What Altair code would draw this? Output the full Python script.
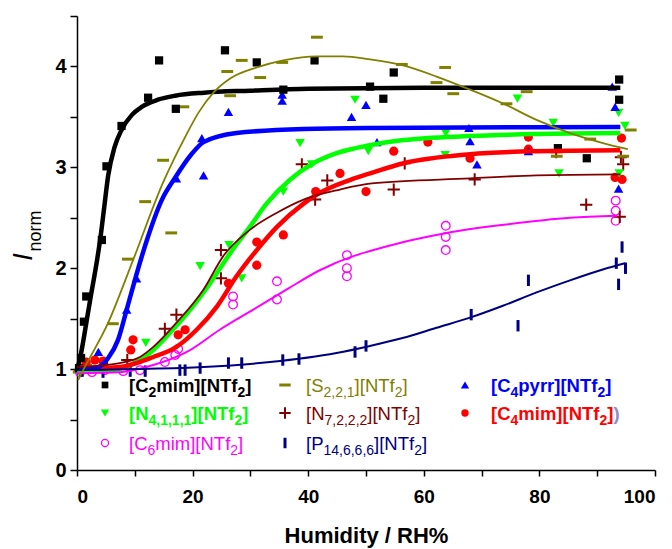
import altair as alt
import pandas as pd

# ---------------- data ----------------
# [C2mim][NTf2]  black squares
C2_X = [0.35, 0.7, 1.2, 1.6, 4.3, 5.1, 7.7, 12.3, 14.2, 17.1, 25.6, 31.1, 35.7, 41.1, 50.7, 53.0, 54.8, 83.2, 88.2, 93.8, 93.8]
C2_Y = [1.01, 1.11, 1.47, 1.72, 2.28, 3.01, 3.41, 3.69, 4.06, 3.58, 4.16, 4.04, 3.77, 4.06, 3.80, 3.68, 3.94, 3.19, 3.09, 3.87, 3.67]
C2_FX = [0, 0.5, 1.0, 1.7, 2.5, 3.3, 4.0, 4.7, 5.4, 6.5, 7.7, 9.5, 11.2, 14, 17, 22, 30, 40, 60, 94]
C2_FY = [1.0, 1.1, 1.25, 1.49, 1.76, 2.02, 2.28, 2.6, 2.92, 3.2, 3.37, 3.52, 3.60, 3.67, 3.71, 3.74, 3.76, 3.78, 3.79, 3.79]

# [S2,2,1][NTf2]  olive dashes
S2_X = [0.3, 1.6, 6.2, 8.8, 11.8, 14.9, 16.3, 18.4, 26.0, 26.5, 28.5, 31.7, 35.5, 41.5, 56.2, 62.2, 63.7, 65.1, 74.3, 77.8, 83.0, 88.8, 94.5, 95.8]
S2_Y = [0.97, 1.04, 1.45, 2.09, 2.66, 3.07, 2.35, 3.60, 3.95, 3.71, 4.06, 3.89, 4.04, 4.29, 4.02, 3.84, 3.99, 3.73, 3.63, 3.75, 3.11, 3.28, 3.11, 3.37]
S2_FX = [0.2, 0.8, 5.4, 9.7, 14.9, 18.7, 21.0, 23.6, 26.5, 31.1, 35.7, 41.5, 46.0, 50.7, 56.4, 62.2, 68.0, 73.8, 79.5, 85.3, 91.0, 95.3]
S2_FY = [0.89, 0.96, 1.46, 2.08, 2.85, 3.30, 3.54, 3.74, 3.88, 3.99, 4.06, 4.10, 4.10, 4.07, 4.01, 3.90, 3.77, 3.63, 3.47, 3.34, 3.24, 3.18]

# [C4pyrr][NTf2]  blue up-triangles
C4P_X = [0.5, 3.7, 8.6, 10.3, 17.2, 21.6, 21.9, 26.2, 35.5, 35.5, 47.5, 50.0, 51.9, 67.8, 68.0, 69.2, 78.1, 92.6, 93.1, 93.7]
C4P_Y = [1.01, 1.17, 1.59, 1.90, 2.89, 3.29, 2.92, 3.55, 3.72, 3.66, 3.50, 3.62, 3.25, 3.39, 3.26, 3.03, 3.16, 3.80, 3.60, 2.79]
C4P_FX = [0, 3.1, 4.5, 5.4, 7.1, 8.6, 10.0, 12.1, 14.7, 17.0, 19.8, 21.9, 27.6, 39.2, 50.7, 94]
C4P_FY = [1.0, 1.01, 1.05, 1.11, 1.29, 1.59, 1.88, 2.28, 2.68, 2.90, 3.13, 3.25, 3.34, 3.38, 3.39, 3.40]

# [N4,1,1,1][NTf2]  green down-triangles
N4_X = [0.3, 2.6, 4.7, 11.9, 21.3, 26.3, 28.5, 35.7, 38.6, 40.6, 48.1, 50.4, 63.7, 63.8, 76.2, 82.4, 83.4, 93.7, 93.8, 94.8]
N4_Y = [0.97, 0.99, 1.01, 1.26, 2.02, 2.23, 1.90, 2.76, 3.24, 3.03, 3.67, 3.16, 3.12, 3.34, 3.68, 3.44, 2.94, 3.54, 2.94, 3.41]
N4_FX = [0, 5.7, 9.2, 12.6, 16.1, 19.6, 23.0, 26.5, 29.9, 32.8, 36.9, 40.9, 44.9, 50.7, 56.5, 68.0, 79.5, 94]
N4_FY = [0.98, 0.99, 1.04, 1.16, 1.36, 1.59, 1.85, 2.15, 2.41, 2.64, 2.88, 3.04, 3.14, 3.22, 3.27, 3.31, 3.33, 3.34]

# [N7,2,2,2][NTf2]  dark-red plus
N7_X = [0.5, 5.2, 8.7, 15.2, 17.2, 24.9, 24.9, 38.9, 41.2, 43.3, 54.8, 56.7, 68.8, 82.9, 88.1, 94.1, 94.5, 93.9]
N7_Y = [0.99, 1.02, 1.09, 1.40, 1.54, 2.18, 1.90, 3.03, 2.68, 2.87, 2.78, 3.04, 2.88, 3.15, 2.63, 3.10, 3.03, 2.51]
N7_FX = [0, 7.4, 10.9, 13.2, 17.2, 21.9, 25.3, 29.9, 34.6, 39.2, 45.5, 51.0, 68.0, 79.5, 94]
N7_FY = [1.02, 1.06, 1.12, 1.22, 1.46, 1.79, 2.12, 2.38, 2.55, 2.68, 2.78, 2.84, 2.89, 2.92, 2.93]

# [C4mim][NTf2]  red filled circles
C4M_X = [0.5, 1.6, 3.1, 4.5, 9.3, 9.7, 17.5, 18.7, 26.2, 31.1, 31.1, 35.7, 41.3, 45.5, 50.0, 54.8, 60.7, 68.0, 78.1, 78.1, 94.2, 93.1, 94.3]
C4M_Y = [1.01, 1.07, 1.09, 1.08, 1.19, 1.29, 1.34, 1.39, 1.85, 2.26, 2.03, 2.33, 2.76, 2.94, 2.76, 3.16, 3.25, 3.09, 3.30, 3.18, 3.29, 2.90, 2.88]
C4M_FX = [0, 4, 7.4, 13.2, 17.2, 20.7, 24.2, 27.6, 31.1, 34.6, 39.2, 41.2, 47.5, 50.7, 56.5, 68.0, 79.5, 94]
C4M_FY = [1.02, 1.01, 1.02, 1.12, 1.22, 1.39, 1.62, 1.92, 2.18, 2.41, 2.64, 2.72, 2.88, 2.94, 3.04, 3.13, 3.16, 3.17]

# [C6mim][NTf2]  magenta open circles
C6_X = [0.5, 2.6, 4.8, 8.0, 10.9, 15.2, 17.0, 17.5, 27.0, 27.0, 34.6, 34.6, 46.7, 46.7, 46.7, 63.8, 63.8, 63.8, 93.2, 93.2, 93.2]
C6_Y = [0.97, 0.97, 0.99, 0.98, 0.99, 1.07, 1.14, 1.20, 1.72, 1.64, 1.87, 1.69, 2.13, 2.00, 1.92, 2.42, 2.31, 2.18, 2.67, 2.57, 2.47]
C6_FX = [0, 7.4, 13.2, 19.0, 24.7, 30.5, 36.3, 42.0, 47.8, 50.7, 56.5, 64.0, 73.8, 85.3, 93.4]
C6_FY = [0.96, 0.97, 1.04, 1.17, 1.39, 1.59, 1.79, 1.98, 2.12, 2.17, 2.26, 2.35, 2.43, 2.50, 2.52]

# [P14,6,6,6][NTf2]  navy vertical bars
P14_X = [0.9, 4.5, 9.2, 11.8, 17.8, 18.7, 21.3, 26.2, 28.5, 35.6, 38.4, 48.1, 50.0, 68.2, 76.3, 78.1, 93.3, 93.7, 94.3, 94.9]
P14_Y = [0.98, 0.97, 0.98, 0.98, 0.99, 0.99, 1.01, 1.06, 1.06, 1.09, 1.10, 1.17, 1.23, 1.54, 1.43, 1.88, 2.05, 1.84, 2.21, 2.00]
P14_FX = [0, 10.3, 21.9, 33.4, 44.9, 50.7, 56.5, 62.2, 68.0, 73.8, 79.5, 85.3, 91.1, 94.8]
P14_FY = [0.99, 1.0, 1.02, 1.07, 1.16, 1.23, 1.31, 1.41, 1.51, 1.63, 1.76, 1.88, 1.99, 2.05]

# legend labels as (text, kind) pieces: 0 normal, 1 subscript, 2 trailing bracket
LEGEND_LABELS = [
    [("[C", 0), ("2", 1), ("mim][NTf", 0), ("2", 1), ("]", 0)],
    [("[S", 0), ("2,2,1", 1), ("][NTf", 0), ("2", 1), ("]", 0)],
    [("[C", 0), ("4", 1), ("pyrr][NTf", 0), ("2", 1), ("]", 0)],
    [("[N", 0), ("4,1,1,1", 1), ("][NTf", 0), ("2", 1), ("]", 0)],
    [("[N", 0), ("7,2,2,2", 1), ("][NTf", 0), ("2", 1), ("]", 0)],
    [("[C", 0), ("4", 1), ("mim][NTf", 0), ("2", 1), ("]", 0), (")", 2)],
    [("[C", 0), ("6", 1), ("mim][NTf", 0), ("2", 1), ("]", 0)],
    [("[P", 0), ("14,6,6,6", 1), ("][NTf", 0), ("2", 1), ("]", 0)],
]
X_TICKS = [0, 10, 20, 30, 40, 50, 60, 70, 80, 90, 100]
Y_TICKS = [0, 0.5, 1, 1.5, 2, 2.5, 3, 3.5, 4, 4.5]

# ---------------- styling ----------------
FONT = "Liberation Sans"
BLACK, OLIVE, BLUE, GREEN = "#000000", "#808000", "#0000FF", "#00FF00"
DRED, RED, MAGENTA, NAVY = "#800000", "#FF0000", "#FF00FF", "#000080"

DASH = "M -1 0 L 1 0"
PLUS = "M -1 0 L 1 0 M 0 -1 L 0 1"
VBAR = "M 0 -1 L 0 1"

W, H = 578, 454
OX, OY = 77, 16

x_enc = alt.X("x:Q", scale=alt.Scale(domain=[0, 100], nice=False, zero=False),
              axis=alt.Axis(title="Humidity / RH%", values=X_TICKS,
                            labelExpr="datum.value % 20 == 0 ? format(datum.value, 'd') : ''",
                            grid=False, tickSize=6, labelPadding=11, titlePadding=19,
                            labelFontSize=19, labelFontWeight="bold", titleFontSize=22,
                            titleFontWeight="bold"))
y_enc = alt.Y("y:Q", scale=alt.Scale(domain=[0, 4.5], nice=False, zero=False),
              axis=alt.Axis(title=None, values=Y_TICKS,
                            labelExpr="datum.value % 1 == 0 ? format(datum.value, 'd') : ''",
                            grid=False, tickSize=7, labelPadding=4,
                            labelFontSize=20, labelFontWeight="bold"))


def df(x, y):
    return pd.DataFrame({"x": x, "y": y})


def points(x, y, **mk):
    mk.setdefault("opacity", 1)
    return alt.Chart(df(x, y)).mark_point(**mk).encode(x=x_enc, y=y_enc)


def fit(x, y, color, width):
    return alt.Chart(df(x, y)).mark_line(color=color, strokeWidth=width,
                                         interpolate="monotone").encode(x=x_enc, y=y_enc)


pt_layers = [
    points(C6_X, C6_Y, shape="circle", filled=False, stroke=MAGENTA, strokeWidth=1.3, size=75),
    points(P14_X, P14_Y, shape=VBAR, filled=False, stroke=NAVY, strokeWidth=3, size=130),
    points(N7_X, N7_Y, shape=PLUS, filled=False, stroke=DRED, strokeWidth=2, size=150),
    points(S2_X, S2_Y, shape=DASH, filled=False, stroke=OLIVE, strokeWidth=3, size=140),
    points(C4M_X, C4M_Y, shape="circle", filled=True, color=RED, size=85),
    points(N4_X, N4_Y, shape="triangle-down", filled=True, color=GREEN, size=90),
    points(C4P_X, C4P_Y, shape="triangle-up", filled=True, color=BLUE, size=90),
    points(C2_X, C2_Y, shape="square", filled=True, color=BLACK, size=68),
]
line_layers = [
    fit(N4_FX, N4_FY, GREEN, 4.5),
    fit(C4M_FX, C4M_FY, RED, 4.5),
    fit(C4P_FX, C4P_FY, BLUE, 4.5),
    fit(C2_FX, C2_FY, BLACK, 4.5),
    fit(C6_FX, C6_FY, MAGENTA, 2),
    fit(P14_FX, P14_FY, NAVY, 2),
    fit(N7_FX, N7_FY, DRED, 1.8),
    fit(S2_FX, S2_FY, OLIVE, 1.8),
]

# ---------------- legend (inside plot) ----------------
# Arial / Liberation Sans advance widths (per 1000 em)
REG_W = {"[": 278, "]": 278, "C": 722, "m": 833, "i": 222, "N": 722, "T": 611, "f": 278,
         "S": 667, "P": 667, "p": 556, "y": 500, "r": 333, ",": 278, ")": 333}
BOLD_W = {"[": 333, "]": 333, "C": 722, "m": 889, "i": 278, "N": 722, "T": 611, "f": 333,
          "S": 667, "P": 667, "p": 611, "y": 556, "r": 389, ",": 278, ")": 333}


def text_width(s, size, bold):
    table = BOLD_W if bold else REG_W
    return sum(table.get(ch, 556) for ch in s) * size / 1000.0


MAIN_FS, SUB_FS, SUB_DY = 18.5, 14, 5
SYM_X = [105, 285, 465]
TXT_X = [129, 306, 491]
ROW_Y = [385, 413, 443]
legend_specs = [
    (dict(shape="square", filled=True, color=BLACK, size=45), BLACK, True),
    (dict(shape=DASH, filled=False, stroke=OLIVE, strokeWidth=3, size=130), OLIVE, False),
    (dict(shape="triangle-up", filled=True, color=BLUE, size=70), BLUE, True),
    (dict(shape="triangle-down", filled=True, color=GREEN, size=70), GREEN, True),
    (dict(shape=PLUS, filled=False, stroke=DRED, strokeWidth=2, size=130), DRED, False),
    (dict(shape="circle", filled=True, color=RED, size=55), RED, True),
    (dict(shape="circle", filled=False, stroke=MAGENTA, strokeWidth=1.3, size=50), MAGENTA, False),
    (dict(shape=VBAR, filled=False, stroke=NAVY, strokeWidth=3, size=110), NAVY, False),
]
legend_layers = []
one = pd.DataFrame({"k": [0]})
for i, (pieces, (sym, tcol, bold)) in enumerate(zip(LEGEND_LABELS, legend_specs)):
    r, c = divmod(i, 3)
    sym = dict(sym, opacity=1)
    legend_layers.append(
        alt.Chart(one).mark_point(**sym).encode(
            x=alt.value(SYM_X[c] - OX), y=alt.value(ROW_Y[r] - OY)))
    cx = TXT_X[c] - OX
    base = ROW_Y[r] - OY + 6.5
    for txt, kind in pieces:
        fs = SUB_FS if kind == 1 else MAIN_FS
        dy = SUB_DY if kind == 1 else 0
        col = "#8C8CC8" if kind == 2 else tcol
        legend_layers.append(
            alt.Chart(pd.DataFrame({"t": [txt]})).mark_text(
                align="left", baseline="alphabetic", font=FONT, fontSize=fs,
                fontWeight="bold" if bold else "normal", color=col).encode(
                x=alt.value(cx), y=alt.value(base + dy), text="t:N"))
        cx += text_width(txt, fs, bold)

# ---------------- y-axis title  I_norm ----------------
ytitle = [
    alt.Chart(pd.DataFrame({"t": ["I"]})).mark_text(
        font=FONT, fontSize=27, fontStyle="italic", angle=270, align="center",
        baseline="middle", color="black").encode(
        x=alt.value(24 - OX), y=alt.value(257 - OY), text="t:N"),
    alt.Chart(pd.DataFrame({"t": ["norm"]})).mark_text(
        font=FONT, fontSize=18, angle=270, align="center", baseline="middle",
        color="black").encode(
        x=alt.value(36 - OX), y=alt.value(231 - OY), text="t:N"),
]

chart = alt.layer(*pt_layers, *line_layers, *legend_layers, *ytitle).properties(
    width=W, height=H,
    autosize=alt.AutoSizeParams(type="none"),
    padding={"left": OX, "top": OY, "right": 672 - OX - W, "bottom": 549 - OY - H},
).configure_view(stroke=None).configure_axis(
    domainColor="black", domainWidth=1.5, tickColor="black", tickWidth=1.5,
    labelColor="black", titleColor="black", labelFont=FONT, titleFont=FONT,
)

chart.save("out.html", embed_options={"renderer": "svg", "actions": False})
